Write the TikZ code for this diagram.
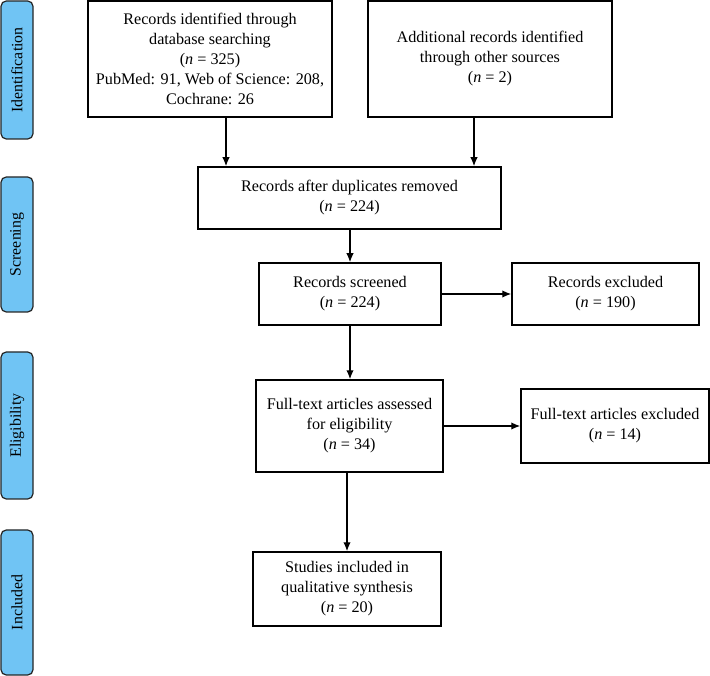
\documentclass[tikz,border=0pt]{standalone}
\usepackage{fontspec}
\setmainfont{Liberation Serif}
\usepackage{xcolor}
\usetikzlibrary{shapes,calc,arrows.meta}
\definecolor{phaseblue}{RGB}{112,196,244}
\begin{document}
\begin{tikzpicture}[scale=1,
  flowbox/.style={draw,line width=0.85pt,inner sep=2pt,align=center,
    font=\fontsize{9.2}{11.4}\selectfont},
  phasebar/.style={draw=black!85,line width=0.7pt,fill=phaseblue,rounded corners=3pt,
    rotate=90,minimum height=0.64cm,inner sep=0pt,font=\fontsize{9}{11}\selectfont},
  arr/.style={line width=0.8pt,-{Latex[length=1.8mm,width=1.5mm]}}]
\useasboundingbox (0,0) rectangle (14.2,-13.52);
% phases
\node[phasebar,minimum width=2.76cm] (idf) at (0.34,-1.40) {Identification};
\node[phasebar,minimum width=2.70cm] (scr) at (0.34,-4.89) {Screening};
\node[phasebar,minimum width=2.94cm] (elg) at (0.34,-8.51) {Eligibility};
\node[phasebar,minimum width=2.90cm] (inc) at (0.34,-12.05) {Included};
% boxes
\node[flowbox,minimum width=4.88cm,minimum height=2.32cm] (dbrec) at (4.20,-1.18)
  {Records identified through\\database searching\\(\textit{n} = 325)\\PubMed: 91, Web of Science: 208,\\Cochrane: 26};
\node[flowbox,minimum width=4.88cm,minimum height=2.32cm] (othrec) at (9.80,-1.18)
  {Additional records identified\\through other sources\\(\textit{n} = 2)};
\node[flowbox,minimum width=6.06cm,minimum height=1.24cm] (dedup) at (6.99,-3.96)
  {Records after duplicates removed\\(\textit{n} = 224)};
\node[flowbox,minimum width=3.64cm,minimum height=1.24cm] (screened) at (7.00,-5.88)
  {Records screened\\(\textit{n} = 224)};
\node[flowbox,minimum width=3.74cm,minimum height=1.24cm] (recexcl) at (12.11,-5.88)
  {Records excluded\\(\textit{n} = 190)};
\node[flowbox,minimum width=3.74cm,minimum height=1.84cm] (fulltext) at (6.99,-8.52)
  {Full-text articles assessed\\for eligibility\\(\textit{n} = 34)};
\node[flowbox,minimum width=3.76cm,minimum height=1.48cm] (ftexcl) at (12.30,-8.52)
  {Full-text articles excluded\\(\textit{n} = 14)};
\node[flowbox,minimum width=3.76cm,minimum height=1.48cm] (incl) at (6.94,-11.78)
  {Studies included in\\qualitative synthesis\\(\textit{n} = 20)};
% arrows
\draw[arr] ([xshift=0.32cm]dbrec.south) -- ([xshift=0.32cm]dbrec.south |- dedup.north);
\draw[arr] ([xshift=-0.32cm]othrec.south) -- ([xshift=-0.32cm]othrec.south |- dedup.north);
\draw[arr] (dedup.south -| screened.north) -- (screened.north);
\draw[arr] (screened.east) -- (recexcl.west);
\draw[arr] (screened.south) -- (screened.south |- fulltext.north);
\draw[arr] (fulltext.east) -- (ftexcl.west);
\draw[arr] (fulltext.south -| incl.north) -- (incl.north);
\end{tikzpicture}
\end{document}
